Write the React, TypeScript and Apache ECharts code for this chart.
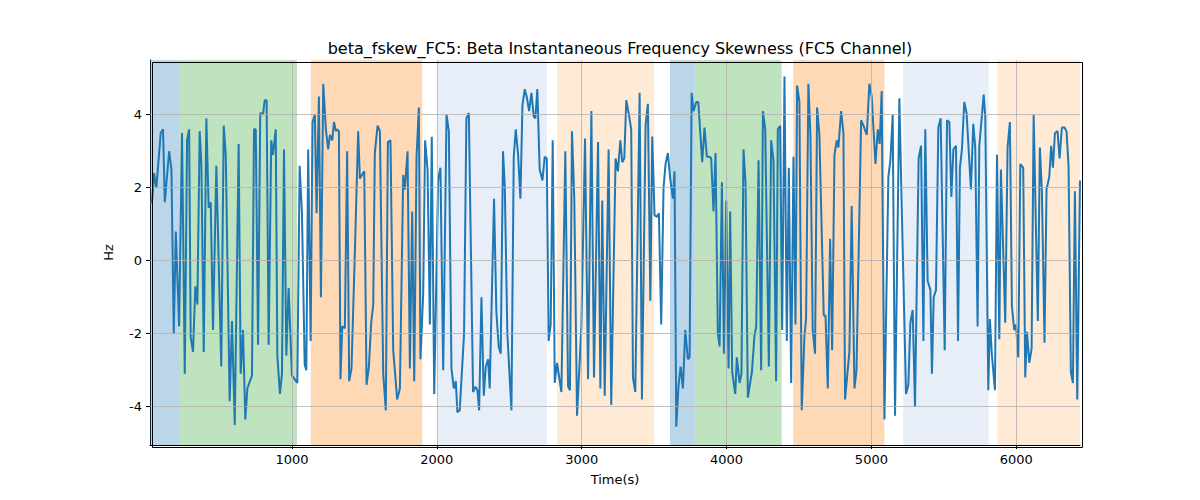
import React, { useEffect, useRef } from 'react';
import * as echarts from 'echarts';

// time (s) and value (Hz)
const times = [
  20, 34, 48, 64, 94, 110, 122, 152, 168, 184, 198, 221, 241, 260, 276, 290, 301, 317, 333, 347, 363, 375, 391, 409, 425, 439, 455, 478, 512, 529, 543, 570, 586, 605, 632, 646, 662, 678, 692, 724, 738, 750, 766, 781, 800, 812, 825, 839, 857, 869, 888, 899, 917, 931, 945, 961, 977, 1000, 1037, 1053, 1069, 1088, 1099,
  1112, 1129, 1142, 1158, 1170, 1186, 1200, 1216, 1234, 1250, 1262, 1278, 1290, 1303, 1312, 1324, 1335, 1347, 1365, 1381, 1395, 1411, 1434, 1457, 1469, 1483, 1499, 1515, 1531, 1547, 1561, 1572, 1591, 1607, 1630, 1648, 1662, 1680, 1699, 1726, 1745, 1768, 1779, 1798, 1814, 1830, 1844, 1860, 1876, 1887, 1906, 1919, 1936, 1952, 1965, 1982, 2009, 2025, 2044, 2067, 2083, 2101, 2117, 2131,
  2142, 2158, 2188, 2204, 2221, 2250, 2267, 2280, 2292, 2308, 2324, 2338, 2354, 2365, 2395, 2411, 2427, 2441, 2457, 2469, 2487, 2515, 2531, 2545, 2561, 2577, 2591, 2607, 2623, 2637, 2653, 2669, 2680, 2694, 2710, 2729, 2745, 2759, 2772, 2786, 2800, 2814, 2830, 2860, 2887, 2906, 2919, 2933, 2949, 2968, 2998, 3023, 3044, 3067, 3085, 3113, 3129, 3142, 3159, 3186, 3204,
  3234, 3250, 3267, 3280, 3294, 3308, 3324, 3342, 3354, 3370, 3400, 3416, 3441, 3457, 3474, 3487, 3503, 3519, 3533, 3549, 3565, 3579, 3595, 3611, 3630, 3641, 3653, 3669, 3683, 3699, 3715, 3733, 3745, 3759, 3772, 3791, 3805, 3832, 3848, 3864, 3883, 3894, 3910, 3924, 3940, 3952, 3968, 3982, 3998, 4014, 4025, 4039, 4060, 4071, 4090, 4103, 4117, 4131, 4147, 4175, 4193, 4205, 4221, 4239, 4251, 4267,
  4292, 4308, 4324, 4342, 4354, 4370, 4384, 4400, 4416, 4430, 4446, 4462, 4476, 4487, 4503, 4519, 4538, 4549, 4565, 4579, 4595, 4611, 4625, 4641, 4671, 4683, 4699, 4715, 4729, 4745, 4761, 4772, 4791, 4807, 4818, 4848, 4864, 4883, 4897, 4929, 4945, 4968, 4986, 5002, 5028, 5044, 5057, 5071, 5090, 5117, 5131, 5147, 5163, 5193, 5211, 5239, 5255, 5269, 5285, 5301, 5326, 5343, 5359,
  5372, 5388, 5407, 5418, 5430, 5446, 5462, 5478, 5506, 5522, 5538, 5552, 5566, 5584, 5598, 5611, 5625, 5641, 5657, 5687, 5703, 5717, 5733, 5745, 5775, 5786, 5807, 5818, 5832, 5853, 5867, 5883, 5894, 5924, 5940, 5956, 5970, 5986, 5998, 6014, 6028, 6048, 6062, 6074, 6090, 6106, 6120, 6136, 6149, 6163, 6177, 6195, 6209, 6228, 6241, 6253, 6267, 6285, 6299, 6315, 6333, 6347, 6361, 6377, 6391, 6405, 6421, 6440,
];

const values = [
  1.6, 1.6, 2.4, 2.0, 3.5, 3.6, 1.6, 3.0, 2.5, -2.0, 0.8, -1.8, 3.5, -3.1, 3.3, 3.6, -2.1, -2.5, -0.7, -1.2, 3.55, 2.6, -2.5, 3.9, 1.45, 1.6, -1.9, 2.6, -2.9, 3.7, 2.9, -3.85, -1.65, -4.5, 3.2, -3.1, -1.9, -4.35, -3.5, -3.15, 3.6, 3.6, -2.3, 4.05, 4.0, 4.4, 4.4, -2.3, 3.3, 2.9, 3.6, -2.6, -3.65, -3.1, 3.05, -2.6, -0.75, -3.15, -3.35, 2.6, 1.3, -2.85, -3.0,
  3.05, -2.2, 3.8, 4.0, 1.3, 4.5, -1.0, 4.85, 3.6, 3.05, 3.45, 3.3, 3.8, 3.55, 3.6, 3.55, -3.25, -1.8, -1.85, 3.0, -3.3, -2.95, 0.2, 3.55, 2.25, 2.35, 2.45, -3.4, -2.9, -1.7, -1.2, 2.95, 3.7, 3.55, -3.1, -4.1, 3.25, 3.3, -2.45, -3.8, -3.5, 2.35, 1.95, 3.0, -2.95, 1.35, -3.3, 2.85, 4.2, -2.7, -0.9, 3.3, 2.5, -1.75, 3.4, -3.65, 2.2, 2.55, -3.0, 4.0, 3.55, -2.95, -3.5, -3.3,
  -4.15, -4.1, -2.0, 3.9, 4.05, -3.6, -3.45, -3.55, -4.1, -1.0, -3.7, -2.9, -2.7, -3.5, 1.7, -1.4, -2.35, -2.55, 3.0, 2.05, -2.0, -4.1, 2.85, 3.6, 2.9, 1.7, 4.25, 4.7, 4.45, 4.1, 4.6, 3.95, 3.9, 4.7, 2.5, 2.2, 2.85, 2.8, -2.2, -1.75, 3.3, -3.35, -2.8, -3.6, 3.0, -3.45, -3.55, 3.55, 1.7, -4.25, -1.8, 3.35, -3.25, 4.1, -3.2, 3.25, -3.5, 1.65, -3.7, 3.05, -3.95,
  2.8, 2.45, 3.3, 2.7, 2.8, 4.4, 4.05, 3.6, -3.2, -3.6, 4.6, -3.8, 3.7, 4.3, -1.1, 3.4, 1.25, 1.2, 1.3, -1.75, 2.0, 2.65, 2.95, 2.25, 1.7, 2.45, -4.55, -3.4, -2.9, -3.5, -1.9, -2.7, -2.65, 4.6, 4.1, 4.35, 4.35, 2.7, 3.65, 2.85, 2.85, 2.8, 1.35, 2.95, -2.0, -2.35, 2.15, -2.55, 1.65, -2.95, 1.35, -3.05, -3.65, -2.65, -3.35, -3.1, 3.05, 2.15, -3.75, -3.05, -2.05, -1.8, 2.75, -3.0, 4.1, 3.6,
  -2.9, 3.3, 2.75, -3.3, 3.6, 3.7, -1.9, 5.05, -2.2, 2.55, -3.35, 2.85, -1.75, 4.8, 4.35, -4.1, -2.05, -1.6, 4.85, 3.45, -1.9, -2.55, 4.2, 3.45, -1.5, -1.5, -3.5, 0.6, -2.45, 2.9, 3.3, 3.1, 4.1, 3.5, -3.8, -2.5, 1.5, -3.5, -3.0, 3.85, 3.7, 3.45, 4.85, 4.5, 2.65, 3.6, 3.2, 4.65, -4.35, 2.3, 2.75, 4.0, -4.25, 4.45, 1.2, -3.65, -3.4, -1.7, -1.35, -4.0, 2.8, 3.15, -2.2,
  3.6, -0.55, -0.8, -3.1, -1.0, -0.8, 3.65, 3.9, -2.45, 3.85, 3.8, 1.75, 3.05, 3.15, -2.2, 2.55, 3.05, 4.35, 4.05, 1.95, 3.75, 3.1, -1.8, 3.15, 4.55, 3.95, -3.55, -1.6, -2.6, -3.55, 2.9, -2.15, 2.5, -1.7, 3.1, 3.8, -1.25, -1.9, -1.75, -2.65, 2.65, 2.55, -3.2, -1.95, -2.8, -2.4, 4.0, 0.85, -1.65, 3.1, 1.9, -2.25, 1.95, 2.3, 3.15, 2.55, 3.5, 3.55, 2.8, 3.65, 3.65, 3.55, 2.6, -3.05, -3.35, 1.9, -3.8, 2.2,
];

// shaded segments: [start, end, colour]
const bandStarts = [20, 220, 1130, 2000, 2830, 3610, 3780, 4460, 5220, 5870];
const bandEnds = [220, 1035, 1900, 2760, 3500, 3780, 4380, 5090, 5810, 6440];
const bandColors = [
  'rgba(31,119,180,0.3)', 'rgba(44,160,44,0.3)', 'rgba(255,127,14,0.3)', 'rgba(174,199,232,0.3)', 'rgba(255,187,120,0.3)',
  'rgba(31,119,180,0.3)', 'rgba(44,160,44,0.3)', 'rgba(255,127,14,0.3)', 'rgba(174,199,232,0.3)', 'rgba(255,187,120,0.3)',
];

const xTicks = [1000, 2000, 3000, 4000, 5000, 6000];
const yTicks = [-4, -2, 0, 2, 4];

const font = 'DejaVu Sans';

const App: React.FC = () => {
  const chartRef = useRef<HTMLDivElement>(null);

  useEffect(() => {
    if (!chartRef.current) return;
    const chart = echarts.init(chartRef.current, undefined, { renderer: 'svg' });

    const gridLines = {
      silent: true,
      symbol: 'none',
      label: { show: false },
      lineStyle: { color: '#b0b0b0', width: 0.8, type: 'solid' },
      data: [
        ...xTicks.map(v => ({ xAxis: v })),
        ...yTicks.map(v => ({ yAxis: v })),
      ],
    };

    chart.setOption({
      animation: false,
      backgroundColor: '#fff',
      textStyle: { fontFamily: font },
      title: {
        text: 'beta_fskew_FC5: Beta Instantaneous Frequency Skewness (FC5 Channel)',
        left: 615,
        top: 35,
        textAlign: 'center',
        textStyle: { fontFamily: font, fontSize: 16, fontWeight: 'normal', color: '#000' },
      },
      grid: { left: 150, right: 120, top: 60, bottom: 55 },
      graphic: [
        {
          type: 'rect',
          left: 150,
          top: 60,
          shape: { width: 930, height: 385 },
          style: { fill: 'none', stroke: '#000', lineWidth: 1 },
          silent: true,
          z: 100,
        },
      ],
      xAxis: {
        type: 'value',
        min: 20,
        max: 6440,
        name: 'Time(s)',
        nameLocation: 'middle',
        nameGap: 28,
        nameTextStyle: { fontFamily: font, fontSize: 13, color: '#000' },
        axisLine: { onZero: false, lineStyle: { color: '#000' } },
        axisTick: { customValues: xTicks, length: 4, lineStyle: { color: '#000' } },
        axisLabel: {
          customValues: xTicks,
          formatter: (v: number) => String(v),
          fontFamily: font,
          fontSize: 13,
          color: '#000',
        },
        splitLine: { show: false },
      },
      yAxis: {
        type: 'value',
        min: -5.05,
        max: 5.5,
        name: 'Hz',
        nameLocation: 'middle',
        nameGap: 35,
        nameTextStyle: { fontFamily: font, fontSize: 13, color: '#000' },
        axisLine: { show: true, onZero: false, lineStyle: { color: '#000' } },
        axisTick: { show: true, customValues: yTicks, length: 4, lineStyle: { color: '#000' } },
        axisLabel: { customValues: yTicks, fontFamily: font, fontSize: 13, color: '#000' },
        splitLine: { show: false },
      },
      series: [
        {
          type: 'line',
          data: times.map((t, i) => [t, values[i]]),
          symbol: 'none',
          lineStyle: { color: '#1f77b4', width: 2 },
          markArea: {
            silent: true,
            data: bandStarts.map((s, i) => [
              { xAxis: s, itemStyle: { color: bandColors[i] } },
              { xAxis: bandEnds[i] },
            ]),
          },
          markLine: gridLines,
          z: 3,
        },
      ],
    });

    return () => {
      chart.dispose();
    };
  }, []);

  return (
    <div
      ref={chartRef}
      style={{ position: 'fixed', left: 0, top: 0, width: '1200px', height: '500px' }}
    />
  );
};

export default App;
